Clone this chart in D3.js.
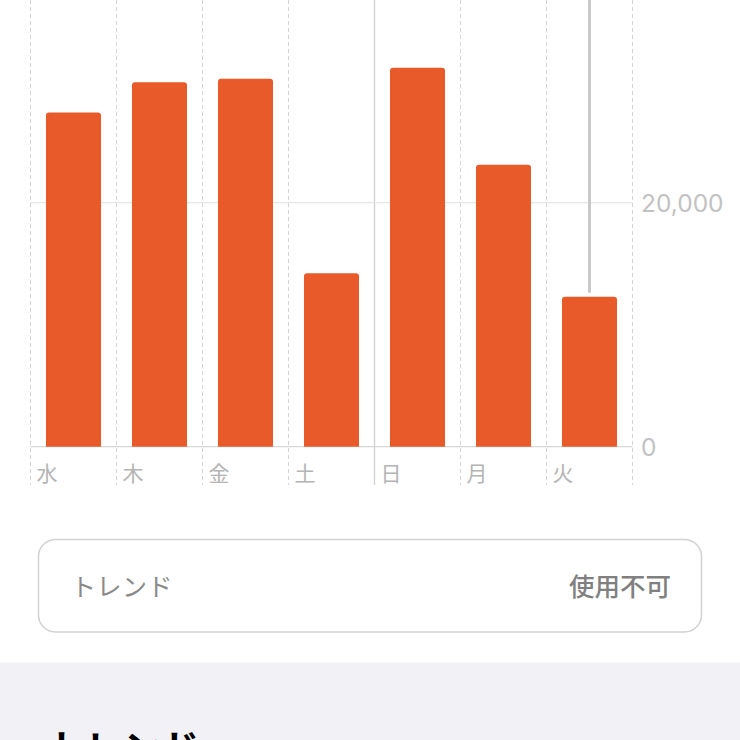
<!DOCTYPE html>
<html><head><meta charset="utf-8">
<script src="https://cdn.jsdelivr.net/npm/d3@7"></script>
<style>
html,body{margin:0;padding:0;background:#fff;overflow:hidden;}
svg{display:block;font-family:"Noto Sans CJK JP","Noto Sans",sans-serif;}
</style></head>
<body>
<svg id="c" width="740" height="740"></svg>
<script>
const days = ["水","木","金","土","日","月","火"];
const steps = [27400, 29870, 30150, 14210, 31070, 23120, 12300];
const yTicks = [0, 20000];
const cardLabel = "トレンド";
const cardValue = "使用不可";
const sectionTitle = "トレンド";
const selectedDay = "火";
const weekStartDay = "日";

const svg = d3.select("#c");
const x = d3.scaleBand().domain(days).range([30.5, 632.5]).paddingInner(0.36).paddingOuter(0.18);
const y = d3.scaleLinear().domain([0, 20000]).range([446.7, 202.7]);
const step = x.step();
const left = x.range()[0];

// vertical boundary lines
const bounds = d3.range(days.length + 1).map(i => left + i * step);
svg.append("g").selectAll("line").data(bounds).join("line")
  .attr("x1", d => d).attr("x2", d => d)
  .attr("y1", 0).attr("y2", 485)
  .attr("stroke", (d,i) => days[i] === weekStartDay ? "#cfcfcf" : "#d4d4d4")
  .attr("stroke-width", (d,i) => days[i] === weekStartDay ? 1.3 : 1)
  .attr("stroke-dasharray", (d,i) => days[i] === weekStartDay ? null : "4,3");

// horizontal grid
svg.append("g").selectAll("line").data(yTicks).join("line")
  .attr("x1", left).attr("x2", x.range()[1])
  .attr("y1", d => y(d)).attr("y2", d => y(d))
  .attr("stroke", d => d === 0 ? "#d6d6d6" : "#e6e6e6")
  .attr("stroke-width", 1.2);

// y tick labels
svg.append("g").selectAll("text").data(yTicks).join("text")
  .attr("x", 641).attr("y", d => y(d))
  .attr("dy", "0.36em")
  .attr("font-size", 24.5).attr("fill", "#c2c2c2")
  .attr("font-family", "Inter, 'Noto Sans', sans-serif")
  .text(d3.format(","));

// selection line
svg.append("line")
  .attr("x1", x(selectedDay) + x.bandwidth()/2).attr("x2", x(selectedDay) + x.bandwidth()/2)
  .attr("y1", 0).attr("y2", y(steps[days.indexOf(selectedDay)]) - 4)
  .attr("stroke", "#c9c9c9").attr("stroke-width", 3);

// bars with rounded tops
const r = 3;
function barPath(d, i) {
  const x0 = x(days[i]), w = x.bandwidth(), y0 = y(d), y1 = y(0);
  return `M${x0},${y1}V${y0 + r}Q${x0},${y0} ${x0 + r},${y0}H${x0 + w - r}Q${x0 + w},${y0} ${x0 + w},${y0 + r}V${y1}Z`;
}
svg.append("g").selectAll("path").data(steps).join("path")
  .attr("d", barPath)
  .attr("fill", "#e85a2a");

// x labels
svg.append("g").selectAll("text").data(days).join("text")
  .attr("x", d => x(d) - (x.step() - x.bandwidth())/2 + 6)
  .attr("y", 481)
  .attr("font-size", 21).attr("fill", "#b4b4b4")
  .text(d => d);

// card
svg.append("rect")
  .attr("x", 38.5).attr("y", 539.5).attr("width", 663).attr("height", 92.5)
  .attr("rx", 17).attr("fill", "#fff").attr("stroke", "#d2d2d2").attr("stroke-width", 1.5);
svg.append("text").attr("x", 71).attr("y", 596)
  .attr("font-size", 25).attr("letter-spacing", 0.5).attr("fill", "#8a8a8a").text(cardLabel);
svg.append("text").attr("x", 671).attr("y", 596).attr("text-anchor", "end")
  .attr("font-size", 25.5).attr("font-weight", 500).attr("fill", "#808080").text(cardValue);

// bottom section
svg.append("rect").attr("x", 0).attr("y", 662.5).attr("width", 740).attr("height", 80).attr("fill", "#f1f1f6");
svg.append("text").attr("x", 47).attr("y", 762)
  .attr("font-size", 38).attr("font-weight", 700).attr("fill", "#000").text(sectionTitle);
</script>
</body></html>
